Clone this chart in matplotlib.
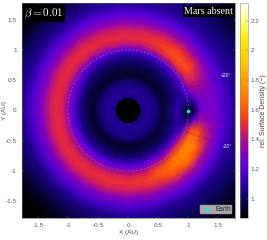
import numpy as np
import matplotlib
matplotlib.use("Agg")
import matplotlib.pyplot as plt
from matplotlib.colors import LinearSegmentedColormap, Normalize
from matplotlib.lines import Line2D
from matplotlib.cm import ScalarMappable

radii = [0.2, 0.32, 0.45, 0.58, 0.7, 0.82, 0.92, 1.0, 1.1, 1.2, 1.32, 1.45, 1.6, 1.75, 2.0, 2.25, 2.6]
azimuths = [-180, -165, -150, -135, -120, -105, -90, -75, -55, -40, -28, -16, -8,
            0, 8, 16, 24, 35, 50, 65, 80, 95, 110, 125, 140, 155, 170, 180]
density = [
    [1.05, 1.08, 1.05, .93, .98, 1.08, 1.20, 1.33, 1.46, 1.50, 1.44, 1.30, 1.18, 1.08, 1.00, .92, .87],  # -180
    [1.05, 1.08, 1.05, .93, .98, 1.08, 1.20, 1.33, 1.46, 1.50, 1.44, 1.30, 1.18, 1.07, .98, .90, .87],
    [1.05, 1.08, 1.05, .93, .98, 1.08, 1.20, 1.33, 1.46, 1.51, 1.45, 1.30, 1.17, 1.06, .95, .87, .86],
    [1.05, 1.08, 1.05, .93, .98, 1.08, 1.20, 1.33, 1.46, 1.51, 1.45, 1.30, 1.17, 1.06, .94, .87, .86],
    [1.05, 1.08, 1.05, .93, .98, 1.08, 1.20, 1.33, 1.47, 1.51, 1.45, 1.30, 1.17, 1.06, .95, .87, .86],
    [1.05, 1.08, 1.05, .93, .97, 1.07, 1.20, 1.33, 1.47, 1.52, 1.46, 1.31, 1.17, 1.07, .99, .91, .87],
    [1.05, 1.08, 1.05, .93, .97, 1.07, 1.20, 1.33, 1.47, 1.52, 1.46, 1.31, 1.18, 1.08, 1.00, .92, .87],  # -90
    [1.05, 1.08, 1.05, .93, .97, 1.07, 1.20, 1.33, 1.49, 1.54, 1.47, 1.32, 1.18, 1.08, 1.00, .92, .87],
    [1.05, 1.08, 1.05, .94, .97, 1.08, 1.25, 1.42, 1.60, 1.64, 1.55, 1.36, 1.20, 1.08, 1.00, .92, .87],
    [1.05, 1.08, 1.05, .94, .98, 1.08, 1.28, 1.50, 1.68, 1.72, 1.62, 1.38, 1.21, 1.09, 1.00, .92, .87],
    [1.05, 1.08, 1.05, .95, .99, 1.08, 1.25, 1.46, 1.68, 1.72, 1.58, 1.36, 1.21, 1.10, 1.01, .92, .87],
    [1.05, 1.08, 1.05, .95, 1.00, 1.10, 1.10, 1.30, 1.55, 1.58, 1.45, 1.33, 1.20, 1.10, 1.01, .93, .87],
    [1.05, 1.08, 1.05, .95, 1.01, 1.11, 1.05, 1.00, 1.20, 1.38, 1.34, 1.29, 1.18, 1.10, 1.02, .93, .87],
    [1.05, 1.08, 1.05, .96, 1.02, 1.12, 1.00, .88, .98, 1.24, 1.28, 1.27, 1.18, 1.10, 1.02, .93, .87],  # 0
    [1.05, 1.08, 1.05, .95, 1.00, 1.10, 1.08, 1.05, 1.12, 1.26, 1.29, 1.27, 1.18, 1.10, 1.02, .93, .87],
    [1.05, 1.08, 1.05, .94, .99, 1.06, 1.10, 1.18, 1.30, 1.34, 1.32, 1.27, 1.18, 1.10, 1.02, .93, .87],
    [1.05, 1.08, 1.05, .94, .98, 1.05, 1.12, 1.24, 1.42, 1.44, 1.38, 1.29, 1.19, 1.10, 1.02, .94, .87],
    [1.05, 1.08, 1.05, .93, .97, 1.03, 1.12, 1.25, 1.52, 1.57, 1.50, 1.33, 1.19, 1.10, 1.02, .94, .87],
    [1.05, 1.08, 1.05, .93, .97, 1.03, 1.12, 1.25, 1.52, 1.58, 1.52, 1.36, 1.20, 1.10, 1.02, .94, .87],
    [1.05, 1.08, 1.05, .93, .96, 1.02, 1.10, 1.22, 1.46, 1.54, 1.49, 1.35, 1.20, 1.10, 1.02, .94, .87],
    [1.05, 1.08, 1.05, .93, .96, 1.02, 1.10, 1.20, 1.42, 1.50, 1.47, 1.34, 1.20, 1.10, 1.02, .94, .87],  # 80
    [1.05, 1.08, 1.05, .93, .96, 1.02, 1.10, 1.20, 1.42, 1.50, 1.47, 1.34, 1.20, 1.10, 1.02, .94, .87],
    [1.05, 1.08, 1.05, .93, .96, 1.02, 1.11, 1.21, 1.42, 1.50, 1.47, 1.33, 1.20, 1.10, 1.01, .91, .87],
    [1.05, 1.08, 1.05, .93, .96, 1.03, 1.12, 1.23, 1.43, 1.51, 1.47, 1.33, 1.20, 1.09, .98, .88, .86],
    [1.05, 1.08, 1.05, .93, .97, 1.05, 1.15, 1.26, 1.44, 1.51, 1.46, 1.32, 1.19, 1.08, .98, .88, .86],
    [1.05, 1.08, 1.05, .93, .97, 1.07, 1.18, 1.30, 1.45, 1.50, 1.45, 1.31, 1.19, 1.08, .99, .89, .87],
    [1.05, 1.08, 1.05, .93, .98, 1.08, 1.20, 1.33, 1.46, 1.50, 1.44, 1.30, 1.18, 1.08, 1.00, .92, .87],
    [1.05, 1.08, 1.05, .93, .98, 1.08, 1.20, 1.33, 1.46, 1.50, 1.44, 1.30, 1.18, 1.08, 1.00, .92, .87],  # 180
]
color_values = [0.87, 1.0, 1.1, 1.2, 1.3, 1.4, 1.5, 1.6, 1.7, 1.8, 1.9, 2.0, 2.1, 2.2, 2.32]
color_stops = ["#000000", "#0c0660", "#2a00a0", "#5a00dc", "#8000c0", "#b0108c", "#e8283c",
               "#ff5a08", "#ff8000", "#ffa000", "#ffc000", "#ffd800", "#fff020", "#ffff80", "#ffffff"]
vmin, vmax = 0.87, 2.32
x_ticks = [-1.5, -1, -0.5, 0, 0.5, 1, 1.5]
tick_labels = ["-1.5", "-1", "-0.5", "0", "0.5", "1", "1.5"]
cbar_ticks = [1, 1.2, 1.4, 1.6, 1.8, 2, 2.2]
cbar_labels = ["1", "1.2", "1.4", "1.6", "1.8", "2", "2.2"]
earth_xy = (1.0, 0.0)
hole_radius = 0.205
limit = 1.775

W, H = 267, 240
GRAY = "#5a5a5a"
plt.rcParams["font.family"] = ["Liberation Sans", "DejaVu Sans"]
fig = plt.figure(figsize=(W / 100, H / 100), dpi=100, facecolor="white")
ax = fig.add_axes([21.5 / W, 1 - 218 / H, 213.5 / W, 215 / H])

cmap = LinearSegmentedColormap.from_list(
    "disk", [((v - vmin) / (vmax - vmin), c) for v, c in zip(color_values, color_stops)], N=256)
norm = Normalize(vmin, vmax)

R, T = np.meshgrid(radii, np.deg2rad(azimuths))
ax.pcolormesh(R * np.cos(T), R * np.sin(T), np.array(density), cmap=cmap, norm=norm,
              shading="gouraud", rasterized=True)
ax.add_patch(plt.Circle((0, 0), hole_radius, color="black", zorder=2, lw=0))

ax.add_patch(plt.Circle((0, 0), 1.0, fill=False, ec="#7c7c8c", lw=0.5, ls=(0, (3, 2.5)), alpha=0.85, zorder=3))
for sign in (1, -1):
    a = np.deg2rad(sign * 20)
    ax.plot([1.0 * np.cos(a), 1.65 * np.cos(a)], [1.0 * np.sin(a), 1.65 * np.sin(a)],
            color="#300050", lw=0.35, alpha=0.35, zorder=3)
ax.text(1.62, 0.57, "+20°", color="white", fontsize=3.6, ha="center", va="center", zorder=4)
ax.text(1.65, -0.59, "-20°", color="white", fontsize=3.6, ha="center", va="center", style="italic", zorder=4)

ax.plot(*earth_xy, "o", color="#00f0e8", ms=2.6, mew=0, zorder=5)

ax.set_xlim(-limit, limit)
ax.set_ylim(-limit, limit)
ax.set_xticks(x_ticks, tick_labels)
ax.set_yticks(x_ticks, tick_labels)
ax.tick_params(direction="in", length=1.5, width=0.3, color=GRAY, labelcolor=GRAY,
               labelsize=4.6, top=True, right=True, pad=3.5)
for s in ax.spines.values():
    s.set_color(GRAY)
    s.set_linewidth(0.4)
ax.set_xlabel("X (AU)", fontsize=4.6, color="#444444")
ax.set_ylabel("Y (AU)", fontsize=4.6, color="#444444")
ax.xaxis.set_label_coords(0.5, -0.057)
ax.yaxis.set_label_coords(-0.066, 0.5)

ax.text(0.012, 0.985, r"$\beta = 0.01$", transform=ax.transAxes, color="white", fontsize=8,
        math_fontfamily="cm", ha="left", va="top",
        bbox=dict(facecolor="black", edgecolor="none", pad=1.0), zorder=6)
ax.text(0.992, 0.982, "Mars absent", transform=ax.transAxes, color="white", fontsize=7.2,
        family="Liberation Serif", ha="right", va="top",
        bbox=dict(facecolor="black", edgecolor="none", pad=0.8), zorder=6)

leg = ax.legend([Line2D([], [], ls="", marker="o", color="#00f0e8", ms=2.6, mew=0)], ["Earth"],
                loc="lower right", bbox_to_anchor=(0.988, 0.018), fontsize=4.7, frameon=True,
                facecolor="#a8a8a8", edgecolor="#888888", framealpha=1, fancybox=False,
                labelcolor="#222222", borderpad=0.15, handletextpad=0.5, handlelength=1.7,
                borderaxespad=0)
leg.get_frame().set_linewidth(0.3)
leg.set_zorder(6)

cax = fig.add_axes([240 / W, 1 - 218 / H, 8 / W, 215 / H])
cb = fig.colorbar(ScalarMappable(norm=norm, cmap=cmap), cax=cax)
cb.set_ticks(cbar_ticks, labels=cbar_labels)
cb.ax.tick_params(length=1.2, width=0.3, color=GRAY, labelcolor=GRAY, labelsize=4.6, pad=2, direction="in")
cb.outline.set_edgecolor("#888888")
cb.outline.set_linewidth(0.4)
cb.set_label("rel. Surface Density (−)", fontsize=5.0, color="#444444")
cb.ax.yaxis.set_label_coords(2.55, 0.5)

fig.savefig("out.png", dpi=100)
